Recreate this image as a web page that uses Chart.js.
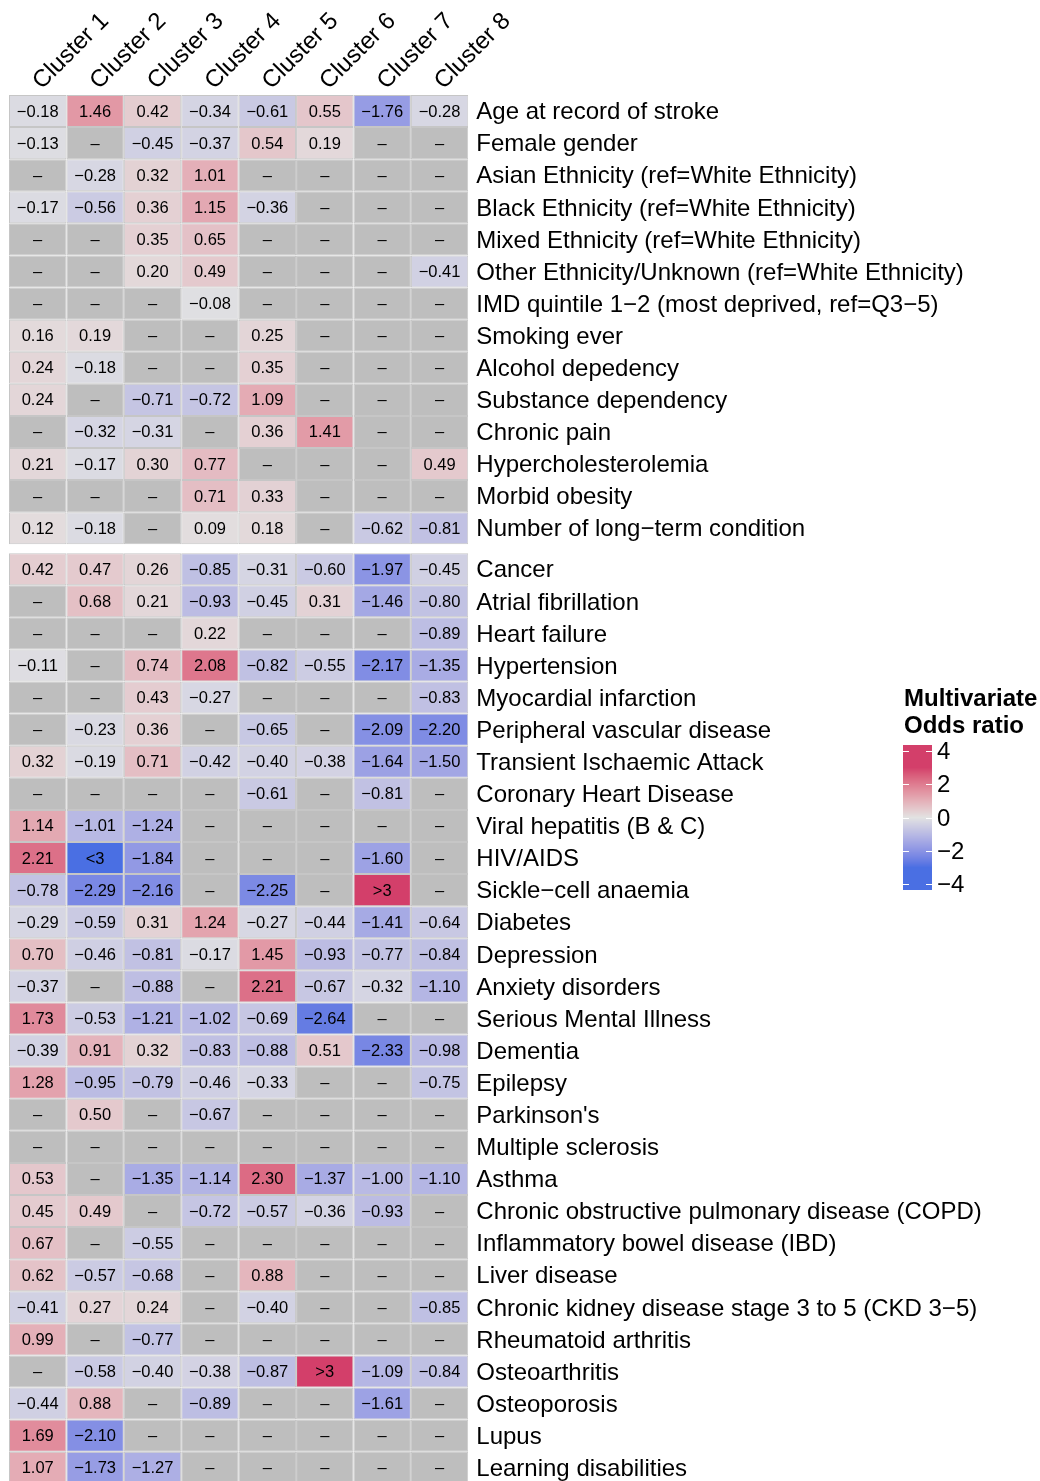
<!DOCTYPE html>
<html>
<head>
<meta charset="utf-8">
<script src="https://cdn.jsdelivr.net/npm/chart.js@4.4.1/dist/chart.umd.min.js"></script>
<style>
html,body{margin:0;padding:0;background:#ffffff;overflow:hidden;}
canvas{display:block;}
</style>
</head>
<body>
<canvas id="c" width="1040" height="1481"></canvas>
<script>
// ---------------- DATA ----------------
const clusters = ['Cluster 1','Cluster 2','Cluster 3','Cluster 4','Cluster 5','Cluster 6','Cluster 7','Cluster 8'];

const topRowLabels = [
  'Age at record of stroke',
  'Female gender',
  'Asian Ethnicity (ref=White Ethnicity)',
  'Black Ethnicity (ref=White Ethnicity)',
  'Mixed Ethnicity (ref=White Ethnicity)',
  'Other Ethnicity/Unknown (ref=White Ethnicity)',
  'IMD quintile 1\u22122 (most deprived, ref=Q3\u22125)',
  'Smoking ever',
  'Alcohol depedency',
  'Substance dependency',
  'Chronic pain',
  'Hypercholesterolemia',
  'Morbid obesity',
  'Number of long\u2212term condition'
];

// null = not included ("–"); values beyond ±3 shown as ">3" / "<3"
const topValues = [
  [-0.18, 1.46, 0.42, -0.34, -0.61, 0.55, -1.76, -0.28],
  [-0.13, null, -0.45, -0.37, 0.54, 0.19, null, null],
  [null, -0.28, 0.32, 1.01, null, null, null, null],
  [-0.17, -0.56, 0.36, 1.15, -0.36, null, null, null],
  [null, null, 0.35, 0.65, null, null, null, null],
  [null, null, 0.20, 0.49, null, null, null, -0.41],
  [null, null, null, -0.08, null, null, null, null],
  [0.16, 0.19, null, null, 0.25, null, null, null],
  [0.24, -0.18, null, null, 0.35, null, null, null],
  [0.24, null, -0.71, -0.72, 1.09, null, null, null],
  [null, -0.32, -0.31, null, 0.36, 1.41, null, null],
  [0.21, -0.17, 0.30, 0.77, null, null, null, 0.49],
  [null, null, null, 0.71, 0.33, null, null, null],
  [0.12, -0.18, null, 0.09, 0.18, null, -0.62, -0.81]
];

const bottomRowLabels = [
  'Cancer',
  'Atrial fibrillation',
  'Heart failure',
  'Hypertension',
  'Myocardial infarction',
  'Peripheral vascular disease',
  'Transient Ischaemic Attack',
  'Coronary Heart Disease',
  'Viral hepatitis (B & C)',
  'HIV/AIDS',
  'Sickle\u2212cell anaemia',
  'Diabetes',
  'Depression',
  'Anxiety disorders',
  'Serious Mental Illness',
  'Dementia',
  'Epilepsy',
  "Parkinson's",
  'Multiple sclerosis',
  'Asthma',
  'Chronic obstructive pulmonary disease (COPD)',
  'Inflammatory bowel disease (IBD)',
  'Liver disease',
  'Chronic kidney disease stage 3 to 5 (CKD 3\u22125)',
  'Rheumatoid arthritis',
  'Osteoarthritis',
  'Osteoporosis',
  'Lupus',
  'Learning disabilities'
];

const bottomValues = [
  [0.42, 0.47, 0.26, -0.85, -0.31, -0.60, -1.97, -0.45],
  [null, 0.68, 0.21, -0.93, -0.45, 0.31, -1.46, -0.80],
  [null, null, null, 0.22, null, null, null, -0.89],
  [-0.11, null, 0.74, 2.08, -0.82, -0.55, -2.17, -1.35],
  [null, null, 0.43, -0.27, null, null, null, -0.83],
  [null, -0.23, 0.36, null, -0.65, null, -2.09, -2.20],
  [0.32, -0.19, 0.71, -0.42, -0.40, -0.38, -1.64, -1.50],
  [null, null, null, null, -0.61, null, -0.81, null],
  [1.14, -1.01, -1.24, null, null, null, null, null],
  [2.21, -4, -1.84, null, null, null, -1.60, null],
  [-0.78, -2.29, -2.16, null, -2.25, null, 4, null],
  [-0.29, -0.59, 0.31, 1.24, -0.27, -0.44, -1.41, -0.64],
  [0.70, -0.46, -0.81, -0.17, 1.45, -0.93, -0.77, -0.84],
  [-0.37, null, -0.88, null, 2.21, -0.67, -0.32, -1.10],
  [1.73, -0.53, -1.21, -1.02, -0.69, -2.64, null, null],
  [-0.39, 0.91, 0.32, -0.83, -0.88, 0.51, -2.33, -0.98],
  [1.28, -0.95, -0.79, -0.46, -0.33, null, null, -0.75],
  [null, 0.50, null, -0.67, null, null, null, null],
  [null, null, null, null, null, null, null, null],
  [0.53, null, -1.35, -1.14, 2.30, -1.37, -1.00, -1.10],
  [0.45, 0.49, null, -0.72, -0.57, -0.36, -0.93, null],
  [0.67, null, -0.55, null, null, null, null, null],
  [0.62, -0.57, -0.68, null, 0.88, null, null, null],
  [-0.41, 0.27, 0.24, null, -0.40, null, null, -0.85],
  [0.99, null, -0.77, null, null, null, null, null],
  [null, -0.58, -0.40, -0.38, -0.87, 4, -1.09, -0.84],
  [-0.44, 0.88, null, -0.89, null, null, -1.61, null],
  [1.69, -2.10, null, null, null, null, null, null],
  [1.07, -1.73, -1.27, null, null, null, null, null]
];

const legendTicks = [4, 2, 0, -2, -4];
const colorBreaks = [-3, 0, 3];
const colorStops = ['#4A6FE3', '#E2E2E2', '#D33F6A'];

// ---------------- STYLE ----------------
const FONT = '"Liberation Sans", Arial, Helvetica, sans-serif';
const NA_COLOR = '#bebebe';
const BORDER_COLOR = '#c6c6c6';
const BLOCK_GAP = 0.277;   // gap between the two blocks, in row units
const LABEL_NUDGE = 0.55;  // where the row label sits inside its row

// ---------------- COLOR (LAB interpolation) ----------------
function hexToRgb(h){h=h.replace('#','');return [0,2,4].map(i=>parseInt(h.substr(i,2),16));}
function toLin(c){c/=255;return c<=0.04045?c/12.92:Math.pow((c+0.055)/1.055,2.4);}
function toSrgb(c){c=c<=0.0031308?12.92*c:1.055*Math.pow(c,1/2.4)-0.055;return Math.round(Math.max(0,Math.min(1,c))*255);}
const WX=0.95047, WY=1.0, WZ=1.08883;
function fLab(t){return t>0.008856?Math.cbrt(t):7.787*t+16/116;}
function fInv(t){return t>0.206893?t*t*t:(t-16/116)/7.787;}
function rgbToLab(rgb){
  const [r,g,b]=rgb.map(toLin);
  const X=0.4124*r+0.3576*g+0.1805*b, Y=0.2126*r+0.7152*g+0.0722*b, Z=0.0193*r+0.1192*g+0.9505*b;
  const fx=fLab(X/WX), fy=fLab(Y/WY), fz=fLab(Z/WZ);
  return [116*fy-16, 500*(fx-fy), 200*(fy-fz)];
}
function labToRgb(lab){
  const fy=(lab[0]+16)/116, fx=fy+lab[1]/500, fz=fy-lab[2]/200;
  const X=WX*fInv(fx), Y=WY*fInv(fy), Z=WZ*fInv(fz);
  const r=3.2406*X-1.5372*Y-0.4986*Z, g=-0.9689*X+1.8758*Y+0.0415*Z, b=0.0557*X-0.2040*Y+1.0570*Z;
  return [toSrgb(r),toSrgb(g),toSrgb(b)];
}
const stopLabs = colorStops.map(c=>rgbToLab(hexToRgb(c)));
function colorFor(v){
  if (v <= colorBreaks[0]) v = colorBreaks[0];
  if (v >= colorBreaks[colorBreaks.length-1]) v = colorBreaks[colorBreaks.length-1];
  let i = 0;
  while (i < colorBreaks.length-2 && v > colorBreaks[i+1]) i++;
  const t = (v - colorBreaks[i]) / (colorBreaks[i+1] - colorBreaks[i]);
  const a = stopLabs[i], b = stopLabs[i+1];
  const rgb = labToRgb([0,1,2].map(k=>a[k]+(b[k]-a[k])*t));
  return 'rgb('+rgb.join(',')+')';
}
function formatCell(v){
  if (v === null || v === undefined) return '\u2013';
  if (v > 3) return '>3';
  if (v < -3) return '<3';
  return v.toFixed(2).replace('-', '\u2212');
}

// ---------------- BUILD ----------------
const allLabels = topRowLabels.concat(bottomRowLabels);
const allValues = topValues.concat(bottomValues);
const rowStart = allLabels.map((_, i) => i < topRowLabels.length ? i : i + BLOCK_GAP);
const Y_MAX = 43.19;

const datasets = allValues.map((vals, i) => ({
  label: allLabels[i],
  data: vals.map(() => [rowStart[i], rowStart[i] + 1]),
  cellValues: vals,
  backgroundColor: vals.map(v => v === null ? NA_COLOR : colorFor(v)),
  borderColor: BORDER_COLOR,
  borderWidth: 1,
  borderSkipped: false,
  barPercentage: 1,
  categoryPercentage: 1,
  grouped: false,
  inflateAmount: 0
}));

const cellTextPlugin = {
  id: 'cellText',
  afterDatasetsDraw(chart) {
    const ctx = chart.ctx;
    ctx.save();
    ctx.font = '16.5px ' + FONT;
    ctx.fillStyle = '#000000';
    ctx.textAlign = 'center';
    ctx.textBaseline = 'middle';
    chart.data.datasets.forEach((ds, di) => {
      const meta = chart.getDatasetMeta(di);
      meta.data.forEach((el, i) => {
        const p = el.getProps(['x', 'y', 'base'], true);
        const cy = (p.y + p.base) / 2;
        ctx.fillText(formatCell(ds.cellValues[i]), p.x, cy + 1);
      });
    });
    ctx.restore();
  }
};

const columnLabelPlugin = {
  id: 'columnLabels',
  afterDraw(chart) {
    const ctx = chart.ctx;
    const xs = chart.scales.x;
    ctx.save();
    ctx.font = '24px ' + FONT;
    ctx.fillStyle = '#000000';
    ctx.textAlign = 'left';
    ctx.textBaseline = 'alphabetic';
    clusters.forEach((lab, i) => {
      const px = xs.getPixelForTick(i);
      ctx.save();
      ctx.translate(px + 4, chart.chartArea.top - 5);
      ctx.rotate(-Math.PI / 4);
      ctx.fillText(lab, 0, 0);
      ctx.restore();
    });
    ctx.restore();
  }
};

const legendPlugin = {
  id: 'oddsLegend',
  afterDraw(chart) {
    const ctx = chart.ctx;
    const x0 = 903, w = 29, top = 745, bottom = 890, zeroY = 817.5, unit = 16.65;
    ctx.save();
    ctx.fillStyle = '#000000';
    ctx.font = 'bold 24px ' + FONT;
    ctx.textAlign = 'left';
    ctx.textBaseline = 'alphabetic';
    ctx.fillText('Multivariate', 904, 706);
    ctx.fillText('Odds ratio', 904, 733);
    for (let y = top; y < bottom; y++) {
      const v = (zeroY - (y + 0.5)) / unit;
      ctx.fillStyle = colorFor(v);
      ctx.fillRect(x0, y, w, 1);
    }
    ctx.strokeStyle = '#ffffff';
    ctx.lineWidth = 1;
    ctx.font = '24px ' + FONT;
    ctx.textBaseline = 'middle';
    legendTicks.forEach(t => {
      const y = Math.round(zeroY - t * unit) + 0.5;
      ctx.beginPath();
      ctx.moveTo(x0, y); ctx.lineTo(x0 + 6, y);
      ctx.moveTo(x0 + w - 6, y); ctx.lineTo(x0 + w, y);
      ctx.stroke();
      ctx.fillStyle = '#000000';
      ctx.fillText(String(t).replace('-', '\u2212'), x0 + w + 5, y + 1);
    });
    ctx.restore();
  }
};

new Chart(document.getElementById('c'), {
  type: 'bar',
  data: { labels: clusters, datasets: datasets },
  plugins: [cellTextPlugin, columnLabelPlugin, legendPlugin],
  options: {
    responsive: false,
    devicePixelRatio: 1,
    animation: false,
    indexAxis: 'x',
    layout: { padding: { left: 9, right: 0, top: 0, bottom: 0 } },
    plugins: { legend: { display: false }, tooltip: { enabled: false }, title: { display: false } },
    scales: {
      x: {
        type: 'category',
        position: 'top',
        offset: true,
        grid: { display: false, drawTicks: false },
        border: { display: false },
        ticks: { display: false },
        afterFit: (s) => { s.height = 95; s.paddingLeft = 0; s.paddingRight = 0; }
      },
      y: {
        type: 'linear',
        position: 'right',
        reverse: true,
        min: 0,
        max: Y_MAX,
        grid: { display: false, drawTicks: false },
        border: { display: false },
        ticks: {
          autoSkip: false,
          padding: 8,
          color: '#000000',
          font: { family: FONT, size: 24 },
          callback: (value, index) => allLabels[index]
        },
        afterBuildTicks: (s) => { s.ticks = rowStart.map(r => ({ value: r + LABEL_NUDGE })); },
        afterFit: (s) => { s.width = 571.7; s.paddingTop = 0; s.paddingBottom = 0; }
      }
    }
  }
});
</script>
</body>
</html>
